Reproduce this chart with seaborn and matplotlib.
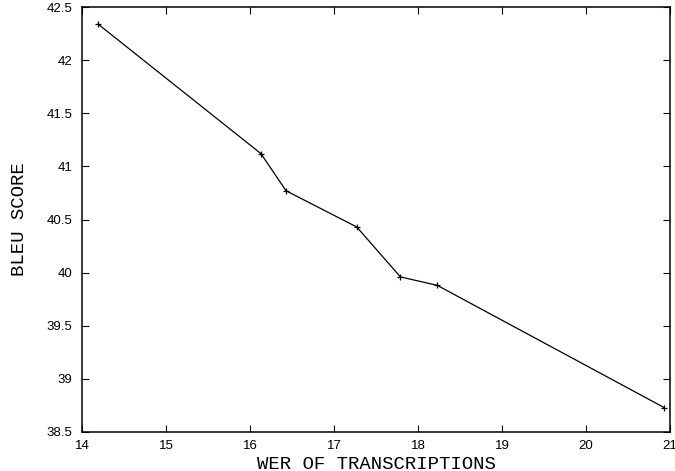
import matplotlib
matplotlib.use("Agg")
import matplotlib.pyplot as plt
import seaborn as sns
import pandas as pd

wer = [14.19, 16.13, 16.43, 17.27, 17.79, 18.23, 20.93]
bleu = [42.34, 41.12, 40.77, 40.43, 39.96, 39.88, 38.73]
x_ticks = [14, 15, 16, 17, 18, 19, 20, 21]
y_ticks = [38.5, 39, 39.5, 40, 40.5, 41, 41.5, 42, 42.5]
x_label = "WER OF TRANSCRIPTIONS"
y_label = "BLEU SCORE"

df = pd.DataFrame({"wer": wer, "bleu": bleu})

sns.set_style("ticks")
plt.rcParams["font.family"] = ["Liberation Sans", "DejaVu Sans"]

fig = plt.figure(figsize=(6.75, 4.71), dpi=100)
ax = fig.add_axes([82 / 675, 39 / 471, 588 / 675, 425 / 471])

sns.lineplot(data=df, x="wer", y="bleu", ax=ax, color="black", linewidth=0.9,
             marker="+", markersize=5, markeredgewidth=0.9, markeredgecolor="black",
             sort=False)

ax.set_xlim(14, 21)
ax.set_ylim(38.5, 42.5)
ax.set_xticks(x_ticks)
ax.set_yticks(y_ticks)
ax.set_xticklabels([f"{t:g}" for t in x_ticks])
ax.set_yticklabels([f"{t:g}" for t in y_ticks])
ax.tick_params(axis="both", direction="in", length=5, width=0.8, labelsize=9.5,
               top=True, right=True, colors="black")
ax.tick_params(axis="x", pad=6)
ax.tick_params(axis="y", pad=7)
for s in ax.spines.values():
    s.set_visible(True)
    s.set_linewidth(1.1)
    s.set_color("black")

ax.set_xlabel(x_label, fontfamily="Liberation Mono", fontsize=13.7, color="black")
ax.set_ylabel(y_label, fontfamily="Liberation Mono", fontsize=13.7, color="black")
ax.xaxis.set_label_coords(0.5, -0.056)
ax.yaxis.set_label_coords(-0.092, 0.5)

fig.savefig("out.png", dpi=100)
